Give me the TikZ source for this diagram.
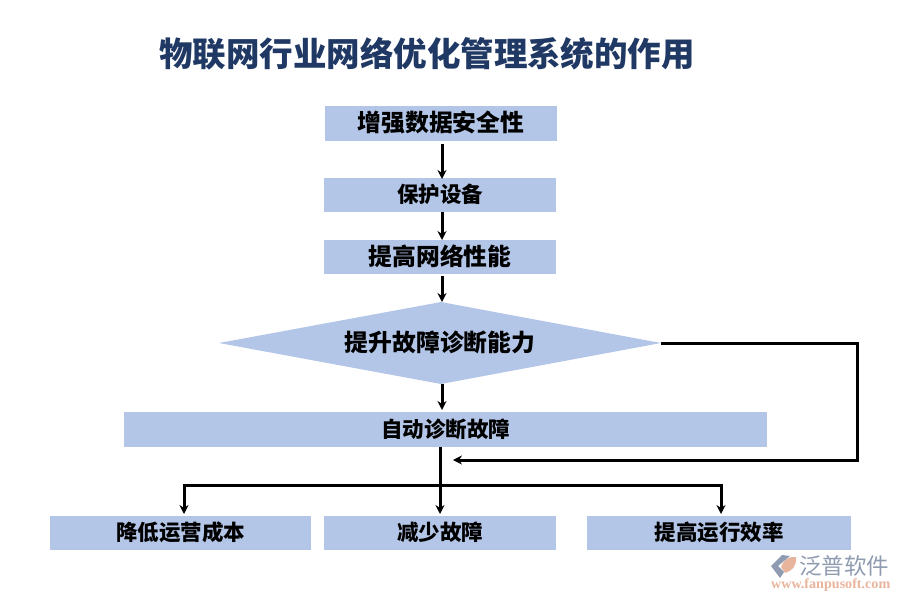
\documentclass[tikz,border=0pt]{standalone}
\usepackage{fontspec}
\setmainfont{Noto Sans CJK SC}
\newfontfamily\urlfont{Liberation Serif}
\usetikzlibrary{shapes.geometric,arrows.meta}
\definecolor{boxblue}{HTML}{B4C6E7}
\definecolor{titleblue}{HTML}{1F3864}
\definecolor{logogray}{HTML}{8E9BB0}
\definecolor{logoorange}{HTML}{E8B49C}
\tikzset{x=1pt,y=-1pt,
 box/.style={fill=boxblue,draw=none,inner sep=0pt,font=\fontsize{21.5}{24}\selectfont\bfseries,text height=18pt,text depth=3pt},
 bigbox/.style={box,font=\fontsize{23.8}{26}\selectfont\bfseries,text height=20pt,text depth=3.5pt},
 conn/.style={draw=black,line width=3pt,-{Stealth[length=9pt,width=9pt]}}}
\begin{document}
\begin{tikzpicture}
\useasboundingbox (0,0) rectangle (900,600);
\node[font=\fontsize{33.5}{36}\selectfont\bfseries,text=titleblue,anchor=center] (t) at (427,53.5) {物联网行业网络优化管理系统的作用};
\node[bigbox,minimum width=232,minimum height=35] (a) at (441,123.5) {增强数据安全性};
\node[box,minimum width=232,minimum height=34] (b) at (440,195) {保护设备};
\node[bigbox,minimum width=232,minimum height=34] (c) at (440,257) {提高网络性能};
\path[fill=boxblue] (219,343) coordinate (dw) -- (441,302) -- (661,343) coordinate (de) -- (441,384) -- cycle;
\node[font=\fontsize{23.8}{26}\selectfont\bfseries] (dt) at (440,342) {提升故障诊断能力};
\node[box,minimum width=643,minimum height=35] (e) at (445.5,429.5) {自动诊断故障};
\node[box,minimum width=261,minimum height=34] (f) at (180.5,533) {降低运营成本};
\node[box,minimum width=232,minimum height=34] (g) at (440,533) {减少故障};
\node[box,minimum width=264,minimum height=34] (h) at (719,533) {提高运行效率};
\draw[conn] (442,144) -- (442,179);
\draw[conn] (442,212) -- (442,240);
\draw[conn] (442,276) -- (442,302);
\draw[conn] (442,384) -- (442,410);
\coordinate (bus) at (440,447);
\coordinate (j) at (440,485);
\draw[conn] (bus) -- (440,514);
\draw[conn] (j) -- (184,485) -- (184,514);
\draw[conn] (j) -- (721,485) -- (721,514);
\draw[conn] (de) -- (857,343) -- (857,460) -- (453,460);
\node[font=\fontsize{22.5}{24}\selectfont,text=logogray,anchor=west,inner sep=0pt] (logo) at (799,566) {泛普软件};
\node[font=\urlfont\bfseries\fontsize{14.1}{16}\selectfont,text=logoorange,anchor=west,inner sep=0pt] (url) at (771,585) {www.fanpusoft.com};
\path[fill=logogray] (782,555) -- (771,566) -- (780,578) -- (784,572) -- (778,566) -- (790,556) -- cycle;
\path[fill=logoorange] (781,567) .. controls (784,559) and (790,556) .. (796,557) .. controls (797,566) and (792,571) .. (785,573) -- cycle;
\end{tikzpicture}
\end{document}
